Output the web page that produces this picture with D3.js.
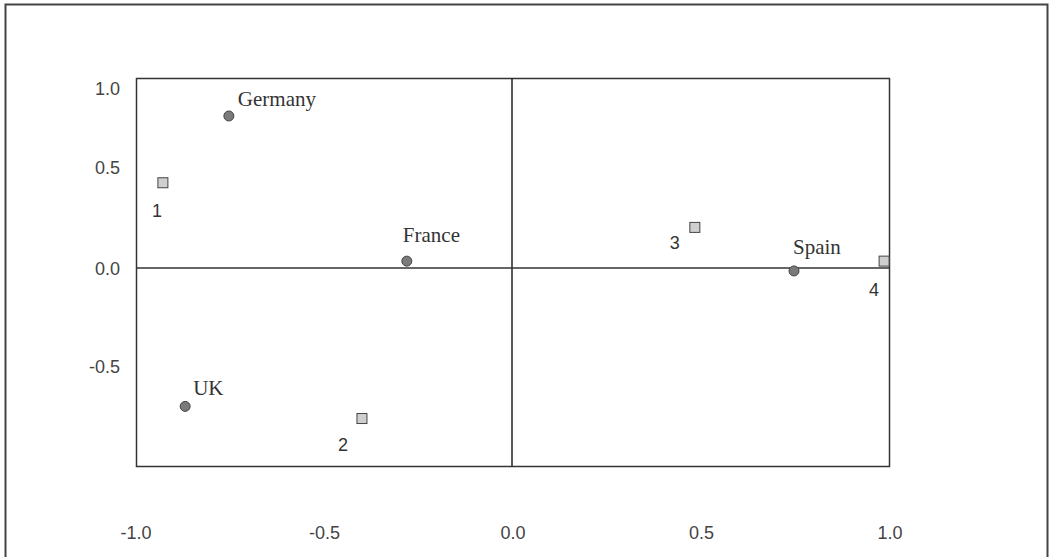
<!DOCTYPE html>
<html>
<head>
<meta charset="utf-8">
<script src="https://cdn.jsdelivr.net/npm/d3@7"></script>
<style>
  body { margin: 0; background: #fff; }
</style>
</head>
<body>
<div id="chart"></div>
<script>
// Row points (countries) and column points (numbered categories)
const countries = ["Germany", "France", "UK", "Spain"];
const countryX = [-0.751, -0.279, -0.867, 0.748];
const countryY = [0.823, 0.034, -0.706, -0.015];

const columns = ["1", "2", "3", "4"];
const columnX = [-0.926, -0.398, 0.485, 0.987];
const columnY = [0.422, -0.768, 0.201, 0.034];

const xTicks = [-1.0, -0.5, 0.0, 0.5, 1.0];
const yTicks = [1.0, 0.5, 0.0, -0.5];

const width = 1049, height = 557;
const svg = d3.select("#chart").append("svg").attr("width", width).attr("height", height);

// outer frame (open at the bottom)
svg.append("path")
    .attr("d", `M5.5,${height} L5.5,4.5 L1047.5,4.5 L1047.5,${height}`)
    .attr("fill", "none").attr("stroke", "#444").attr("stroke-width", 2);

const x = d3.scaleLinear().domain([-1, 1]).range([135, 889]);
// the original axis is not evenly spaced, so use a piecewise scale
const y = d3.scaleLinear().domain([-0.5, 0, 0.5, 1]).range([366, 268, 167, 88]);

const plot = { left: 136, right: 889, top: 78, bottom: 466 };

// plot box
svg.append("rect")
    .attr("x", plot.left + 0.5).attr("y", plot.top + 0.5)
    .attr("width", plot.right - plot.left).attr("height", plot.bottom - plot.top)
    .attr("fill", "none").attr("stroke", "#333").attr("stroke-width", 1.5);

// zero lines
svg.append("line")
    .attr("x1", x(0)).attr("x2", x(0)).attr("y1", plot.top).attr("y2", plot.bottom)
    .attr("stroke", "#222").attr("stroke-width", 1.5);
svg.append("line")
    .attr("x1", plot.left).attr("x2", plot.right).attr("y1", y(0)).attr("y2", y(0))
    .attr("stroke", "#333").attr("stroke-width", 1.5);

const fmt = d => d3.format(".1f")(d).replace("−", "-");

// tick labels
svg.selectAll(".xt").data(xTicks).enter().append("text")
    .attr("x", d => x(d) + 1).attr("y", 539)
    .attr("text-anchor", "middle")
    .style("font-family", "Liberation Sans, Arial, sans-serif").style("font-size", "18px")
    .attr("fill", "#444")
    .text(fmt);

svg.selectAll(".yt").data(yTicks).enter().append("text")
    .attr("x", 120).attr("y", d => y(d) + 7)
    .attr("text-anchor", "end")
    .style("font-family", "Liberation Sans, Arial, sans-serif").style("font-size", "18px")
    .attr("fill", "#444")
    .text(fmt);

// country points
const countryLabelOffset = [[9, -10], [-4, -19], [8, -11], [-1, -17]];
const rows = countries.map((c, i) => ({ name: c, x: countryX[i], y: countryY[i], off: countryLabelOffset[i] }));

svg.selectAll(".row").data(rows).enter().append("circle")
    .attr("cx", d => x(d.x)).attr("cy", d => y(d.y)).attr("r", 5)
    .attr("fill", "#7a7a7a").attr("stroke", "#444").attr("stroke-width", 1);

svg.selectAll(".rowlab").data(rows).enter().append("text")
    .attr("x", d => x(d.x) + d.off[0]).attr("y", d => y(d.y) + d.off[1])
    .style("font-family", "Liberation Serif, Times New Roman, serif").style("font-size", "21px")
    .attr("fill", "#333")
    .text(d => d.name);

// column points
const columnLabelOffset = [[-11, 34], [-24, 32], [-25, 22], [-15, 35]];
const cols = columns.map((c, i) => ({ name: c, x: columnX[i], y: columnY[i], off: columnLabelOffset[i] }));

svg.selectAll(".col").data(cols).enter().append("rect")
    .attr("x", d => x(d.x) - 5).attr("y", d => y(d.y) - 5)
    .attr("width", 10).attr("height", 10)
    .attr("fill", "#cfcfcf").attr("stroke", "#444").attr("stroke-width", 1);

svg.selectAll(".collab").data(cols).enter().append("text")
    .attr("x", d => x(d.x) + d.off[0]).attr("y", d => y(d.y) + d.off[1])
    .style("font-family", "Liberation Sans, Arial, sans-serif").style("font-size", "18px")
    .attr("fill", "#333")
    .text(d => d.name);
</script>
</body>
</html>
